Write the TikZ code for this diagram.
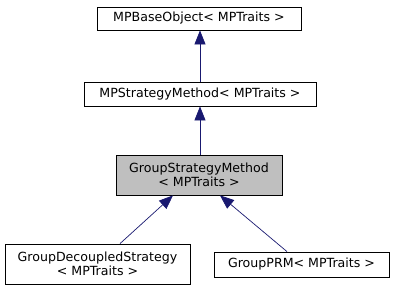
\documentclass[tikz,border=0pt]{standalone}
\usepackage{fontspec}
\setmainfont{DejaVu Sans}
\usetikzlibrary{arrows.meta}
\begin{document}
\begin{tikzpicture}[x=1pt,y=-1pt,
  cls/.style={draw=black,line width=0.8pt,fill=white,inner sep=0pt,
    font=\fontsize{12.6}{14.5}\selectfont,align=center},
  cur/.style={cls,fill=black!25},
  inherit/.style={draw=midnightblue,line width=0.7pt,
    {Triangle[length=14pt,width=11pt]}-}]
\definecolor{midnightblue}{HTML}{191970}
\useasboundingbox (0,0) rectangle (395,291);
% class boxes, given by their corners
\node[cls,minimum width=204pt,minimum height=23pt] (base) at (199,18.5) {MPBaseObject< MPTraits >};
\node[cls,minimum width=232pt,minimum height=24pt] (strat) at (200,94) {MPStrategyMethod< MPTraits >};
\node[cur,minimum width=166pt,minimum height=40pt] (group) at (199,175) {GroupStrategyMethod\\< MPTraits >};
\node[cls,minimum width=185pt,minimum height=40pt] (decoup) at (97.5,264) {GroupDecoupledStrategy\\< MPTraits >};
\node[cls,minimum width=175pt,minimum height=25pt] (prm) at (301.5,264.5) {GroupPRM< MPTraits >};
% inheritance arrows
\draw[inherit] (base.south -| strat.north) -- (strat.north);
\draw[inherit] (strat.south) -- (group.north -| strat.south);
\draw[inherit] (group.south -| 173,0) -- (decoup.north -| 120,0);
\draw[inherit] (group.south -| 220,0) -- (prm.north -| 287,0);
\end{tikzpicture}
\end{document}
